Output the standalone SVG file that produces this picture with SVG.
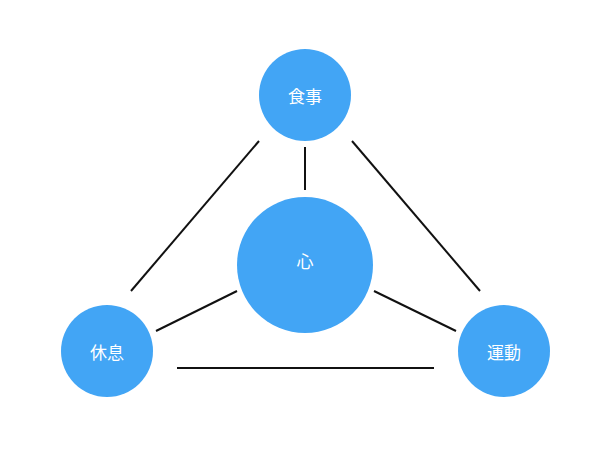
<svg xmlns="http://www.w3.org/2000/svg" width="600" height="460" viewBox="0 0 600 460">
<style>
.n{fill:#42A5F5}
.t{fill:#fff;font-family:"Noto Sans CJK JP","Noto Sans CJK SC",sans-serif;font-size:17px;text-anchor:middle;dominant-baseline:central}
.c{stroke:#111;stroke-width:2;fill:none}
</style>
<rect width="600" height="460" fill="#fff"/>
<g id="connectors">
<line class="c" x1="305" y1="147" x2="305" y2="190"/>
<line class="c" x1="259" y1="141" x2="131" y2="291"/>
<line class="c" x1="352" y1="141" x2="480" y2="291"/>
<line class="c" x1="237" y1="291" x2="156" y2="331"/>
<line class="c" x1="374" y1="291" x2="456" y2="331"/>
<line class="c" x1="177" y1="368" x2="434" y2="368"/>
</g>
<g id="shokuji"><circle class="n" cx="305" cy="95" r="46"/><text class="t" x="305" y="95">食事</text></g>
<g id="kokoro"><circle class="n" cx="305" cy="265" r="68"/><text class="t" x="305" y="260">心</text></g>
<g id="kyusoku"><circle class="n" cx="107" cy="351" r="46"/><text class="t" x="107" y="351">休息</text></g>
<g id="undo"><circle class="n" cx="504" cy="351" r="46"/><text class="t" x="504" y="351">運動</text></g>
</svg>
